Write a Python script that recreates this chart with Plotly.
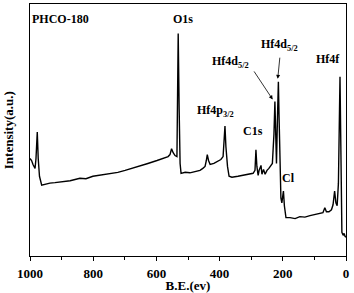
import plotly.graph_objects as go

# Binding energy (eV) and intensity (a.u.)
be = [1000, 995, 990.5, 984, 981, 977, 974, 970, 963, 953, 937, 921, 905, 889, 873, 842, 823, 801,
      778, 747, 722, 699, 677, 652, 627, 598, 576, 563, 557, 552, 547, 541, 535, 533, 531, 528,
      525, 522, 509, 494, 478, 462, 453, 446, 442, 439, 435, 430, 418, 405, 396, 389, 385, 383,
      380, 375, 370, 361, 342, 323, 304, 294, 288, 285, 282, 278, 275, 269, 266, 261, 256, 250,
      244, 237, 233, 228, 225, 222, 220, 217, 214, 212, 209, 206, 203, 198, 195, 190, 177, 161,
      146, 130, 114, 98, 82, 73, 67, 62, 54, 46, 41, 36, 32, 28, 24, 21, 19, 17, 15, 13, 9, 6, 3, 0]
intensity = [101, 99, 95, 91, 101, 128, 101, 83, 74, 75, 76, 76.5, 77, 78, 78.5, 81, 80.5, 83,
             84, 86, 87, 89, 91, 94, 96, 99, 102, 103, 105, 111, 107, 104, 103, 151, 228, 151,
             96, 86, 87, 86.5, 88, 89, 91, 93, 99, 105, 99, 95, 96, 98, 100, 103, 121, 134,
             113, 93, 83, 82, 83, 84, 85, 86, 89, 110, 93, 84, 89, 94, 85, 90, 85, 89,
             91, 94, 96, 126, 159, 121, 96, 141, 179, 146, 91, 61, 56, 68, 53, 41, 41, 40,
             42, 41.5, 43, 44, 45, 46, 51, 47, 47, 49, 54, 68, 56, 53, 76, 131, 184, 131, 51, 26, 23, 25, 22, 21]

x_ticks = [1000, 800, 600, 400, 200, 0]
x_ticklabels = ["1000", "800", "600", "400", "200", "0"]

# Peak labels: (text, eV, intensity)
labels = [
    ("PHCO-180", 902, 243),
    ("O1s", 516, 243),
    ("Hf4d<sub>5/2</sub>", 364, 199),
    ("Hf4d<sub>5/2</sub>", 210, 216),
    ("Hf4f", 55.5, 202),
    ("Hf4p<sub>3/2</sub>", 413, 149),
    ("C1s", 294, 129),
    ("Cl", 182, 81),
]
# Arrows: (tip eV, tip I, tail eV, tail I)
arrows = [
    (232, 161, 294, 191),
    (216, 182, 209, 205),
]

FONT = "Liberation Serif"

fig = go.Figure()
fig.add_trace(go.Scatter(x=be, y=intensity, mode="lines",
                         line=dict(color="black", width=1.4), showlegend=False))

for txt, xv, yv in labels:
    fig.add_annotation(x=xv, y=yv, xref="x", yref="y", text="<b>" + txt + "</b>",
                       showarrow=False, font=dict(family=FONT, size=12, color="black"),
                       xanchor="center", yanchor="middle")

for tx, ty, sx, sy in arrows:
    fig.add_annotation(x=tx, y=ty, ax=sx, ay=sy, xref="x", yref="y", axref="x", ayref="y",
                       text="", showarrow=True, arrowhead=2, arrowsize=1, arrowwidth=0.8,
                       arrowcolor="black")

# y-axis title placed as a rotated annotation
fig.add_annotation(x=-0.069, y=0.5, xref="paper", yref="paper", text="<b>Intensity(a.u.)</b>",
                   textangle=-90, showarrow=False, xanchor="center", yanchor="middle",
                   font=dict(family=FONT, size=13, color="black"))

fig.update_layout(
    width=354, height=293,
    margin=dict(l=30, r=8, t=3, b=34),
    paper_bgcolor="white", plot_bgcolor="white",
    font=dict(family=FONT, color="black"),
    xaxis=dict(range=[1000, 0], tickvals=x_ticks, ticktext=["<b>%s</b>" % t for t in x_ticklabels],
               ticks="outside", ticklen=4, tickwidth=1, tickcolor="black",
               minor=dict(dtick=100, ticks="outside", ticklen=2.5, tickcolor="black"),
               showline=True, mirror=True, linecolor="black", linewidth=1.2,
               showgrid=False, zeroline=False, ticklabelstandoff=1,
               tickfont=dict(family=FONT, size=13, color="black"),
               title=dict(text="<b>B.E.(ev)</b>", font=dict(family=FONT, size=13, color="black"),
                          standoff=0)),
    yaxis=dict(range=[2, 258], showticklabels=False, ticks="",
               showline=True, mirror=True, linecolor="black", linewidth=1.2,
               showgrid=False, zeroline=False),
)

fig.write_html("out.html", config={"displayModeBar": False},
               post_script="document.body.style.margin='0';")
